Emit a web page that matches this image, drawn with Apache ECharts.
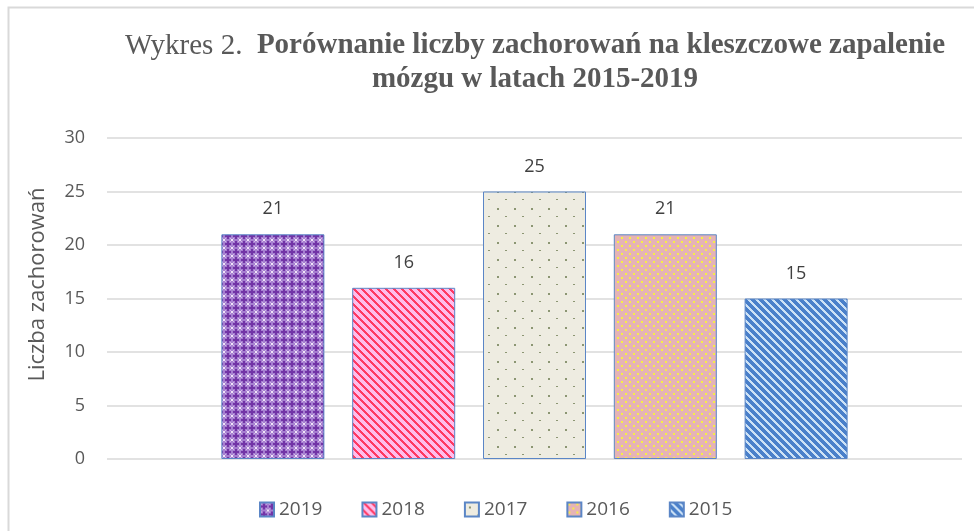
<!DOCTYPE html>
<html>
<head>
<meta charset="utf-8">
<script src="https://cdn.jsdelivr.net/npm/echarts@6/dist/echarts.min.js"></script>
<style>
  html, body { margin: 0; padding: 0; background: #fff; }
  #chart { width: 974px; height: 531px; }
</style>
</head>
<body>
<div id="chart"></div>
<script>
var years = ["2019", "2018", "2017", "2016", "2015"];
var cases = [21, 16, 25, 21, 15];
var yTicks = [0, 5, 10, 15, 20, 25, 30];

// small canvas tiles that mimic the Excel fill patterns
function tile(size, bg, paint) {
  var c = document.createElement("canvas");
  c.width = size; c.height = size;
  var ctx = c.getContext("2d");
  ctx.fillStyle = bg;
  ctx.fillRect(0, 0, size, size);
  paint(ctx, size);
  return { image: c, repeat: "repeat" };
}
function stripes(fg, w) {
  return function (ctx, s) {
    ctx.fillStyle = fg;
    for (var y = 0; y < s; y++) {
      for (var x = 0; x < s; x++) {
        if (((x - y) % s + s) % s < w) ctx.fillRect(x, y, 1, 1);
      }
    }
  };
}

var patterns = [
  tile(8, "#A67FD0", function (ctx) {
    ctx.fillStyle = "#7234A6";
    ctx.fillRect(3, 1, 2, 6); ctx.fillRect(1, 3, 6, 2);
    ctx.fillStyle = "#EFE4F7";
    ctx.fillRect(0, 0, 1, 1); ctx.fillRect(7, 7, 1, 1);
    ctx.fillRect(0, 7, 1, 1); ctx.fillRect(7, 0, 1, 1);
    ctx.fillStyle = "#D2B8E8";
    ctx.fillRect(1, 1, 1, 1); ctx.fillRect(6, 6, 1, 1);
    ctx.fillRect(1, 6, 1, 1); ctx.fillRect(6, 1, 1, 1);
  }),
  tile(8, "#FFBDEB", stripes("#FF3A63", 3)),
  tile(17, "#EEECE1", function (ctx) {
    ctx.fillStyle = "#8C9673";
    ctx.fillRect(4, 4, 2, 2);
    ctx.fillRect(12, 12, 2, 1);
  }),
  tile(8, "#E5B3B6", function (ctx) {
    ctx.fillStyle = "#F6EE45";
    ctx.fillRect(1, 1, 2, 2);
    ctx.fillRect(5, 5, 2, 2);
  }),
  tile(8, "#4A80CA", stripes("#CDE2F6", 3))
];

var series = years.map(function (y, i) {
  return {
    name: y,
    type: "bar",
    data: [cases[i]],
    barWidth: 103,
    barGap: "27%",
    itemStyle: { color: patterns[i], borderColor: "#5B86C6", borderWidth: 1 },
    label: {
      show: true,
      position: "top",
      distance: 16,
      fontSize: 18,
      color: "#404040",
      fontFamily: "Open Sans"
    }
  };
});

var chart = echarts.init(document.getElementById("chart"));
chart.setOption({
  animation: false,
  backgroundColor: "#fff",
  graphic: [{
    type: "rect",
    shape: { x: 8.5, y: 7.5, width: 1000, height: 1000 },
    style: { fill: "none", stroke: "#D9D9D9", lineWidth: 2 }
  }],
  title: {
    left: 530,
    textAlign: "center",
    top: 24,
    text: "{n|Wykres 2.  }{b|Porównanie liczby zachorowań na kleszczowe zapalenie}\n{b|mózgu w latach 2015-2019}",
    textStyle: {
      fontFamily: "Liberation Serif",
      fontSize: 29,
      fontWeight: "normal",
      color: "#595959",
      lineHeight: 34,
      rich: {
        n: { fontFamily: "Liberation Serif", fontSize: 29, fontWeight: "normal", color: "#595959", lineHeight: 34 },
        b: { fontFamily: "Liberation Serif", fontSize: 29, fontWeight: "bold", color: "#595959", lineHeight: 34 }
      }
    }
  },
  legend: {
    bottom: 7,
    left: 254,
    itemWidth: 14,
    itemHeight: 14,
    itemGap: 39,
    icon: "rect",
    textStyle: { fontSize: 19, color: "#595959", fontFamily: "Open Sans" },
    data: years
  },
  grid: { left: 107, right: 12, top: 138, bottom: 72 },
  xAxis: {
    type: "category",
    data: [""],
    axisLine: { show: false },
    axisTick: { show: false },
    axisLabel: { show: false }
  },
  yAxis: {
    type: "value",
    min: yTicks[0],
    max: yTicks[yTicks.length - 1],
    interval: 5,
    name: "Liczba zachorowań",
    nameLocation: "middle",
    nameGap: 58,
    nameTextStyle: { fontSize: 22, color: "#595959", fontFamily: "Open Sans", padding: [0, 0, 0, 28] },
    axisLine: { show: false },
    axisTick: { show: false },
    axisLabel: { fontSize: 18, color: "#595959", margin: 22, fontFamily: "Open Sans" },
    splitLine: { lineStyle: { color: "#D9D9D9", width: 1.5 } }
  },
  series: series
});
</script>
</body>
</html>
